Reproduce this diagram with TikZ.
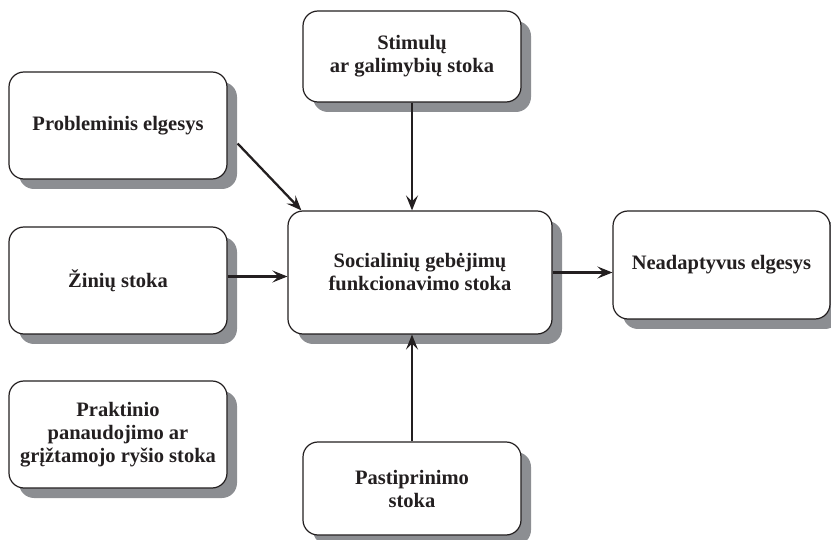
\documentclass[tikz,border=0pt]{standalone}
\usepackage{fontspec}
\setmainfont{Liberation Serif}
\usetikzlibrary{shadows,arrows.meta,calc}
\definecolor{shadowgray}{RGB}{140,142,146}
\definecolor{ink}{RGB}{35,31,32}
\begin{document}
\begin{tikzpicture}[x=1pt,y=-1pt,
  box/.style={draw=ink, line width=1.2pt, fill=white, rounded corners=15pt,
    align=center, inner sep=0pt, text=ink,
    font=\fontsize{20.5}{23}\selectfont\bfseries,
    drop shadow={shadow xshift=10pt, shadow yshift=-10pt, fill=shadowgray, opacity=1}},
  arr/.style={draw=ink, line width=2.3pt,
    -{Stealth[length=15pt,width=12pt,inset=6pt]}}]
\useasboundingbox (0,0) rectangle (831,540);
\node[box, minimum width=218pt, minimum height=107pt] (prob) at (118,125.5) {Probleminis elgesys};
\node[box, minimum width=218pt, minimum height=107pt] (zin) at (118,280.5) {Žinių stoka};
\node[box, minimum width=218pt, minimum height=107pt] (prak) at (118,434.5) {Praktinio\\panaudojimo ar\\grįžtamojo ryšio stoka};
\node[box, minimum width=218pt, minimum height=91pt] (stim) at (412,56.5) {Stimulų\\ar galimybių stoka};
\node[box, minimum width=264pt, minimum height=123pt] (cent) at (420,272.5) {Socialinių gebėjimų\\funkcionavimo stoka};
\node[box, minimum width=218pt, minimum height=93pt] (past) at (412,488.5) {Pastiprinimo\\stoka};
\node[box, minimum width=217pt, minimum height=108pt] (nead) at (721.5,265) {Neadaptyvus elgesys};
\coordinate (pstart) at ($(prob.east)+(10,18)$);
\coordinate (pend) at ($(cent.north west)+(14,0)$);
\draw[arr] (pstart) -- (pend);
\draw[arr] (stim.south) -- (stim.south |- cent.north);
\coordinate (zstart) at ($(zin.east)+(0,-4)$);
\draw[arr] (zstart) -- (zstart -| cent.west);
\draw[arr] (cent.east) -- (cent.east -| nead.west);
\draw[arr] (past.north) -- (past.north |- cent.south);
\end{tikzpicture}
\end{document}
